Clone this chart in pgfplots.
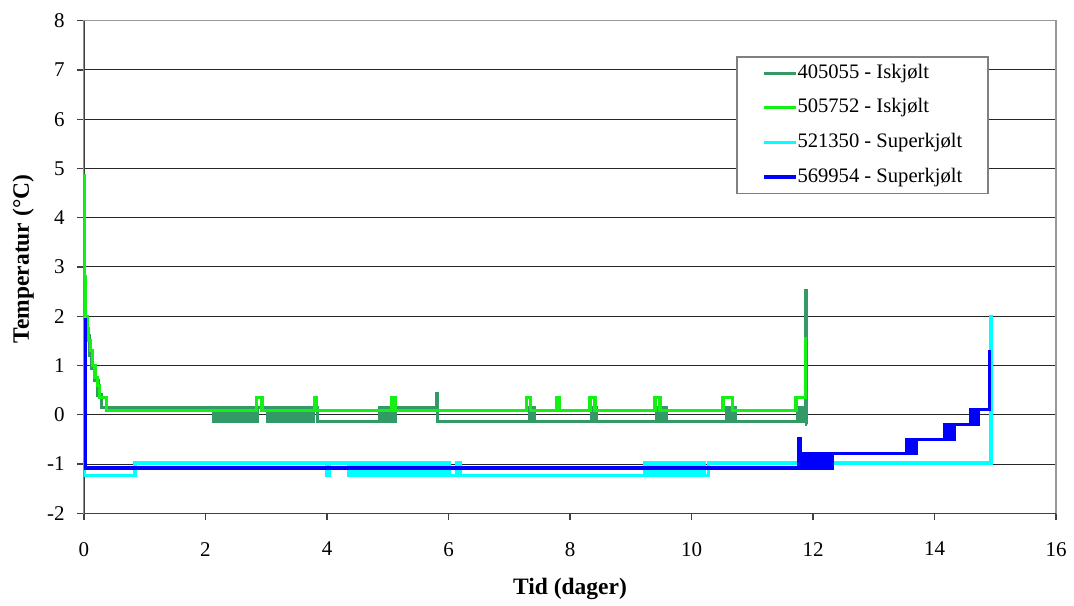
\documentclass[border=0pt]{standalone}
\usepackage{fontspec}
\setmainfont{Liberation Serif}
\usepackage{pgfplots}
\pgfplotsset{compat=1.18}
\definecolor{sgreen}{RGB}{51,153,102}
\definecolor{lgreen}{RGB}{20,240,20}
\definecolor{lcyan}{RGB}{0,255,255}
\definecolor{dblue}{RGB}{0,0,255}
\begin{document}
\begin{tikzpicture}
\path[use as bounding box] (-42pt,-45.85pt) rectangle (495pt,256.65pt);
\begin{axis}[
 at={(0pt,0pt)}, anchor=south west, scale only axis,
 width=486pt, height=246.3pt,
 xmin=0, xmax=16, ymin=-2, ymax=8,
 xtick={0,2,...,16}, ytick={-2,-1,...,8},
 ymajorgrids, major grid style={black!85, line width=0.5pt},
 axis line style={black!40, line width=0.7pt},
 tick pos=left, tick align=outside, major tick length=3.5pt,
 tick style={black!75, line width=0.6pt},
 /pgf/number format/assume math mode=true,
 ticklabel style={font=\fontsize{10.5}{12}\selectfont, inner sep=0pt},
 xticklabel shift=10.7pt,
 yticklabel={\pgfmathprintnumber{\tick}\kern6pt},
 xlabel={Tid (dager)}, ylabel={Temperatur (°C)},
 every axis x label/.style={at={(axis description cs:0.5,0)}, anchor=center, yshift=-37.85pt, font=\fontsize{11.75}{14}\selectfont\bfseries},
 every axis y label/.style={at={(axis description cs:0,0.5163)}, anchor=center, xshift=-30.35pt, rotate=90, font=\fontsize{11.75}{14}\selectfont\bfseries},
 legend style={at={(rel axis cs:0.6708,0.9283)}, anchor=north west, draw=black!50, line width=0.8pt, fill=white, inner xsep=12.75pt, inner ysep=3.2pt, row sep=7.3pt, font=\fontsize{10.3}{12}\selectfont, nodes={inner sep=0pt, text height=7.5pt, text depth=2.5pt}, /tikz/every even column/.append style={column sep=2.5pt}},
 legend cell align=left,
 legend image code/.code={\draw[#1, line width=1.6pt] (0pt,0pt) -- (16pt,0pt);},
 every axis plot/.append style={const plot, line width=1.6pt, line join=miter},
]
\draw[black!75, line width=0.7pt] (rel axis cs:0,0) -- (rel axis cs:0,1);
\draw[black!75, line width=0.7pt] (rel axis cs:0,0) -- (rel axis cs:1,0);

% 405055 - Iskjolt
\addplot[color=sgreen] coordinates {
(0,3.45)(0.01,2.4)(0.03,1.9)(0.06,1.6)(0.09,1.2)(0.13,0.95)(0.18,0.7)(0.23,0.4)(0.29,0.14)
(2.14,-0.14)(2.19,0.14)(2.24,-0.14)(2.29,0.14)(2.34,-0.14)(2.39,0.14)(2.44,-0.14)(2.49,0.14)(2.54,-0.14)(2.59,0.14)(2.64,-0.14)(2.69,0.14)(2.74,-0.14)(2.79,0.14)(2.84,-0.14)(2.86,0.14)
(3.03,-0.14)(3.08,0.14)(3.13,-0.14)(3.18,0.14)(3.23,-0.14)(3.28,0.14)(3.33,-0.14)(3.38,0.14)(3.43,-0.14)(3.48,0.14)(3.53,-0.14)(3.58,0.14)(3.63,-0.14)(3.68,0.14)(3.73,-0.14)(3.78,0.14)(3.84,-0.14)
(4.87,0.14)(4.92,-0.14)(4.97,0.14)(5.02,-0.14)(5.07,0.14)(5.10,-0.14)(5.12,0.14)
(5.80,0.43)(5.82,-0.14)
(7.33,0.14)(7.36,-0.14)(7.39,0.14)(7.42,-0.14)
(8.36,0.14)(8.39,-0.14)(8.42,0.14)(8.44,-0.14)
(9.43,0.14)(9.46,-0.14)(9.49,0.14)(9.52,-0.14)(9.55,0.14)(9.58,-0.14)
(10.58,0.14)(10.61,-0.14)(10.64,0.14)(10.67,-0.14)(10.70,0.14)(10.73,-0.14)
(11.75,0.14)(11.78,-0.14)(11.81,0.14)(11.84,-0.14)(11.87,2.52)(11.89,-0.19)(11.90,-0.19)
};
\addlegendentry{405055 - Iskjølt}

% 505752 - Iskjolt
\addplot[color=lgreen] coordinates {
(0,4.85)(0.01,2.8)(0.02,2.0)(0.05,1.75)(0.07,1.5)(0.11,1.3)(0.14,1.0)(0.18,0.75)(0.22,0.6)(0.25,0.35)(0.37,0.09)
(2.84,0.35)(2.93,0.09)(3.79,0.35)(3.83,0.09)(5.07,0.35)(5.12,0.09)(7.28,0.35)(7.35,0.09)(7.78,0.35)(7.82,0.09)
(8.33,0.35)(8.41,0.09)(9.40,0.35)(9.48,0.09)(10.52,0.35)(10.68,0.09)(11.72,0.35)(11.88,1.57)
};
\addlegendentry{505752 - Iskjølt}

% 521350 - Superkjolt
\addplot[color=lcyan] coordinates {
(0,1.95)(0.01,-1.24)(0.84,-0.98)(4.00,-1.24)(4.04,-0.98)
(4.35,-1.24)(4.40,-0.98)(4.45,-1.24)(4.50,-0.98)(4.55,-1.24)(4.60,-0.98)(4.65,-1.24)(4.70,-0.98)(4.75,-1.24)(4.80,-0.98)
(4.85,-1.24)(4.90,-0.98)(4.95,-1.24)(5.00,-0.98)(5.05,-1.24)(5.10,-0.98)(5.15,-1.24)(5.20,-0.98)(5.25,-1.24)(5.30,-0.98)
(5.35,-1.24)(5.40,-0.98)(5.45,-1.24)(5.50,-0.98)(5.55,-1.24)(5.60,-0.98)(5.65,-1.24)(5.70,-0.98)(5.75,-1.24)(5.80,-0.98)
(5.85,-1.24)(5.90,-0.98)(5.95,-1.24)(6.00,-0.98)(6.02,-1.24)
(6.14,-0.98)(6.19,-1.24)
(9.23,-0.98)(9.28,-1.24)(9.33,-0.98)(9.38,-1.24)(9.43,-0.98)(9.48,-1.24)(9.53,-0.98)(9.58,-1.24)(9.63,-0.98)(9.68,-1.24)
(9.73,-0.98)(9.78,-1.24)(9.83,-0.98)(9.88,-1.24)(9.93,-0.98)(9.98,-1.24)(10.03,-0.98)(10.08,-1.24)(10.13,-0.98)(10.17,-1.24)(10.19,-0.98)
(10.22,-1.24)(10.28,-0.98)
(14.93,2.03)
};
\addlegendentry{521350 - Superkjølt}

% 569954 - Superkjolt
\addplot[color=dblue] coordinates {
(0,1.93)(0.02,-1.08)
(11.77,-0.48)(11.79,-0.78)(11.82,-1.08)(11.86,-0.78)(11.90,-1.08)(11.94,-0.78)(11.98,-1.08)(12.02,-0.78)(12.06,-1.08)
(12.10,-0.78)(12.14,-1.08)(12.18,-0.78)(12.22,-1.08)(12.26,-0.78)(12.30,-1.08)(12.32,-0.78)
(13.54,-0.5)(13.58,-0.78)(13.62,-0.5)(13.66,-0.78)(13.70,-0.5)
(14.17,-0.2)(14.21,-0.5)(14.25,-0.2)(14.29,-0.5)(14.33,-0.2)
(14.60,0.1)(14.64,-0.2)(14.68,0.1)(14.71,-0.2)(14.72,0.1)
(14.90,1.32)
};
\addlegendentry{569954 - Superkjølt}
\end{axis}
\end{tikzpicture}
\end{document}
